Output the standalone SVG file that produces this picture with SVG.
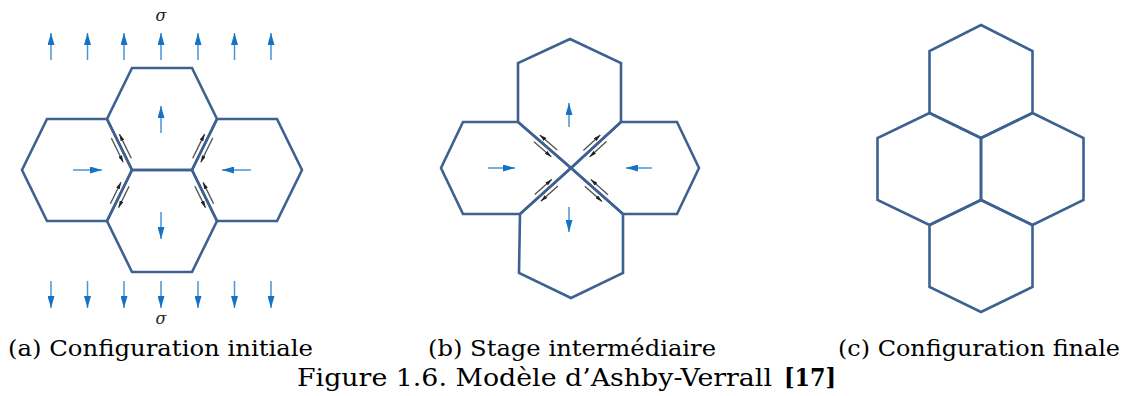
<svg xmlns="http://www.w3.org/2000/svg" width="1130" height="396" viewBox="0 0 1130 396">
<style>
.hex{fill:none;stroke:#3d6292;stroke-width:2.6;stroke-linejoin:miter}
.ba{stroke:#4a96d6;stroke-width:1.5;fill:none;marker-end:url(#bh)}
.ka{stroke:#555;stroke-width:1.4;fill:none;marker-end:url(#kh)}
.cap{font-family:"DejaVu Serif","Liberation Serif",serif;font-size:23px;fill:#000}
.fig{font-family:"DejaVu Serif","Liberation Serif",serif;font-size:24px;fill:#000}
.sig{font-family:"DejaVu Serif","Liberation Serif",serif;font-style:italic;font-size:16px;fill:#222}
</style>
<defs>
<marker id="bh" viewBox="0 0 12 7" refX="12" refY="3.5" markerWidth="12" markerHeight="7" orient="auto" markerUnits="userSpaceOnUse"><path d="M0,0 L12,3.5 L0,7 z" fill="#1672c2"/></marker>
<marker id="kh" viewBox="0 0 7 4" refX="7" refY="2" markerWidth="7" markerHeight="4" orient="auto" markerUnits="userSpaceOnUse"><path d="M0,0 L7,2 L0,4 z" fill="#222"/></marker>
</defs>
<rect width="1130" height="396" fill="#fff"/>

<!-- Panel (a) -->
<g id="a-top"><polygon class="hex" points="132,68 192,68 217,119 192,170 132,170 107,119"/></g>
<g id="a-left"><polygon class="hex" points="47,119 107,119 132,170 107,221 47,221 22,170"/></g>
<g id="a-right"><polygon class="hex" points="217,119 277,119 302,170 277,221 217,221 192,170"/></g>
<g id="a-bottom"><polygon class="hex" points="132,170 192,170 217,221 192,272 132,272 107,221"/></g>

<!-- Panel (b) -->
<g id="b-top"><polygon class="hex" points="570,39 621,63 621,122 571,168 518,122 518,63"/></g>
<g id="b-left"><polygon class="hex" points="463,122 518,122 571,168 520,214 463,214 441,168"/></g>
<g id="b-right"><polygon class="hex" points="621,122 677,122 699,168 677,214 623,214 571,168"/></g>
<g id="b-bottom"><polygon class="hex" points="571,168 623,214 623,273 571,298 519,273 520,214"/></g>

<!-- Panel (c) -->
<g id="c-top"><polygon class="hex" points="981,25 1032.5,51 1032.5,113 981,138 929.5,113 929.5,51"/></g>
<g id="c-left"><polygon class="hex" points="929.5,113 981,138 981,200 929.5,225 877.5,200 877.5,138"/></g>
<g id="c-right"><polygon class="hex" points="1032.5,113 1083.5,138 1083.5,200 1032.5,225 981,200 981,138"/></g>
<g id="c-bottom"><polygon class="hex" points="981,200 1032.5,225 1032.5,287 981,312 929.5,287 929.5,225"/></g>

<g id="connectors">
<!-- (a) stress arrows top -->
<line class="ba" x1="51" y1="60" x2="51" y2="33"/>
<line class="ba" x1="87.5" y1="60" x2="87.5" y2="33"/>
<line class="ba" x1="124" y1="60" x2="124" y2="33"/>
<line class="ba" x1="161" y1="60" x2="161" y2="33"/>
<line class="ba" x1="198" y1="60" x2="198" y2="33"/>
<line class="ba" x1="234.5" y1="60" x2="234.5" y2="33"/>
<line class="ba" x1="271" y1="60" x2="271" y2="33"/>
<!-- (a) stress arrows bottom -->
<line class="ba" x1="51" y1="281" x2="51" y2="308"/>
<line class="ba" x1="87.5" y1="281" x2="87.5" y2="308"/>
<line class="ba" x1="124" y1="281" x2="124" y2="308"/>
<line class="ba" x1="161" y1="281" x2="161" y2="308"/>
<line class="ba" x1="198" y1="281" x2="198" y2="308"/>
<line class="ba" x1="234.5" y1="281" x2="234.5" y2="308"/>
<line class="ba" x1="271" y1="281" x2="271" y2="308"/>
<!-- (a) grain motion -->
<line class="ba" x1="161" y1="133" x2="161" y2="106"/>
<line class="ba" x1="73" y1="170" x2="102" y2="170"/>
<line class="ba" x1="251" y1="170" x2="222" y2="170"/>
<line class="ba" x1="161" y1="212" x2="161" y2="239"/>
<!-- (a) sliding pairs -->
<line class="ka" x1="111.3" y1="138" x2="123.2" y2="162.3"/>
<line class="ka" x1="131.3" y1="158.3" x2="119.4" y2="134.1"/>
<line class="ka" x1="192.7" y1="158.3" x2="204.6" y2="134.1"/>
<line class="ka" x1="212.7" y1="138" x2="200.8" y2="162.3"/>
<line class="ka" x1="110.4" y1="203.8" x2="121" y2="182.2"/>
<line class="ka" x1="129.1" y1="186.2" x2="118.5" y2="207.7"/>
<line class="ka" x1="213.6" y1="203.8" x2="203" y2="182.2"/>
<line class="ka" x1="194.9" y1="186.2" x2="205.5" y2="207.7"/>

<!-- (b) grain motion -->
<line class="ba" x1="569" y1="127" x2="569" y2="103"/>
<line class="ba" x1="488" y1="168" x2="515" y2="168"/>
<line class="ba" x1="652" y1="168" x2="626" y2="168"/>
<line class="ba" x1="569" y1="207" x2="569" y2="232"/>
<!-- (b) sliding pairs -->
<line class="ka" x1="557.2" y1="150" x2="539.8" y2="135"/>
<line class="ka" x1="533.9" y1="141.8" x2="551.3" y2="156.8"/>
<line class="ka" x1="583.4" y1="150.5" x2="600.3" y2="134.9"/>
<line class="ka" x1="606.4" y1="141.6" x2="589.5" y2="157.1"/>
<line class="ka" x1="534.8" y1="194.6" x2="551.9" y2="179.2"/>
<line class="ka" x1="557.9" y1="185.9" x2="540.8" y2="201.3"/>
<line class="ka" x1="608" y1="194.7" x2="590.8" y2="179.5"/>
<line class="ka" x1="584.8" y1="186.2" x2="602" y2="201.5"/>
</g>

<text class="sig" x="161" y="21" text-anchor="middle">σ</text>
<text class="sig" x="161" y="324" text-anchor="middle">σ</text>

<text class="cap" x="8" y="356" textLength="305" lengthAdjust="spacingAndGlyphs">(a) Configuration initiale</text>
<text class="cap" x="428" y="356" textLength="288" lengthAdjust="spacingAndGlyphs">(b) Stage intermédiaire</text>
<text class="cap" x="838" y="356" textLength="282" lengthAdjust="spacingAndGlyphs">(c) Configuration finale</text>
<text class="fig" x="297" y="386" textLength="475" lengthAdjust="spacingAndGlyphs">Figure 1.6. Modèle d’Ashby-Verrall</text>
<text class="fig" x="784" y="386" font-weight="bold" textLength="52" lengthAdjust="spacingAndGlyphs">[17]</text>
</svg>
